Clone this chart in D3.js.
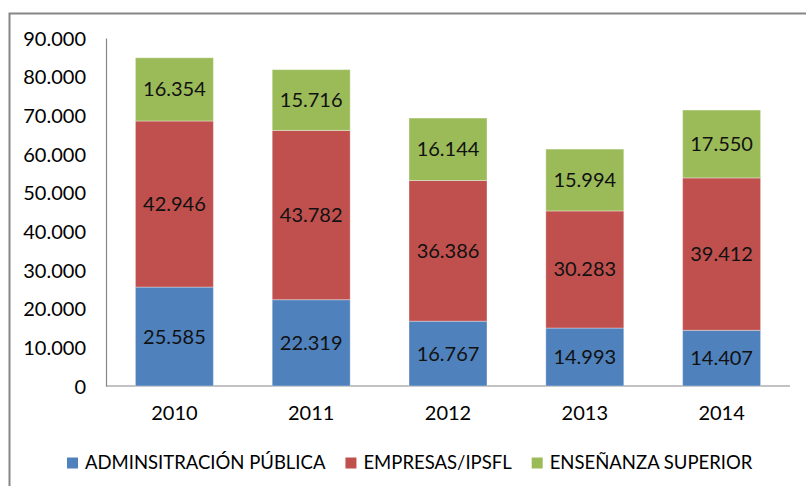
<!DOCTYPE html>
<html>
<head>
<meta charset="utf-8">
<script src="https://cdn.jsdelivr.net/npm/d3@7"></script>
<style>
  body { margin: 0; background: #fff; }
  text { font-family: Lato, "Liberation Sans", sans-serif; fill: #000; }
</style>
</head>
<body>
<script>
// data
const years = ["2010", "2011", "2012", "2013", "2014"]
const seriesNames = ["ADMINSITRACIÓN PÚBLICA", "EMPRESAS/IPSFL", "ENSEÑANZA SUPERIOR"]
const administracion = [25585, 22319, 16767, 14993, 14407]
const empresas = [42946, 43782, 36386, 30283, 39412]
const ensenanza = [16354, 15716, 16144, 15994, 17550]
const yTicks = [0, 10000, 20000, 30000, 40000, 50000, 60000, 70000, 80000, 90000]

const colors = ["#4F81BD", "#C0504D", "#9BBB59"]

const width = 806, height = 486
const plot = { left: 106, right: 790, top: 38, bottom: 386 }

// spanish number format, dot as thousands separator
const fmt = d3.formatLocale({ decimal: ",", thousands: ".", grouping: [3], currency: ["", "€"] }).format(",d")

const svg = d3.select("body").append("svg")
  .attr("width", width)
  .attr("height", height)

// outer chart border
svg.append("rect")
  .attr("x", 9.5).attr("y", 13.5)
  .attr("width", width + 10).attr("height", height + 10)
  .attr("fill", "none")
  .attr("stroke", "#868686")
  .attr("stroke-width", 2)

// stack the three series
const rows = years.map((y, i) => ({
  year: y,
  s0: administracion[i],
  s1: empresas[i],
  s2: ensenanza[i]
}))
const stacked = d3.stack().keys(["s0", "s1", "s2"])(rows)

const x = d3.scaleBand()
  .domain(years)
  .range([plot.left, plot.right])
  .paddingInner(0.43)
  .paddingOuter(0.215)

const y = d3.scaleLinear()
  .domain([0, 90000])
  .range([plot.bottom, plot.top])

// y axis
const yAxis = svg.append("g")
  .attr("transform", `translate(${plot.left},0)`)
  .call(d3.axisLeft(y).tickValues(yTicks).tickFormat(fmt).tickSize(0).tickPadding(20))
yAxis.select(".domain").attr("stroke", "#868686").attr("stroke-width", 1.2)
yAxis.selectAll("text").style("font-size", "20px").attr("dy", "0.35em")

// x axis
const xAxis = svg.append("g")
  .attr("transform", `translate(0,${plot.bottom})`)
  .call(d3.axisBottom(x).tickSize(0).tickPadding(20))
xAxis.select(".domain").attr("stroke", "#868686").attr("stroke-width", 1.2)
  .attr("d", `M${plot.left},0H${plot.right}`)
xAxis.selectAll("text").style("font-size", "20px")

// bars
const layers = svg.selectAll(".layer")
  .data(stacked)
  .join("g")
  .attr("class", "layer")
  .attr("fill", (d, i) => colors[i])

layers.selectAll("rect")
  .data(d => d)
  .join("rect")
  .attr("x", d => x(d.data.year))
  .attr("width", x.bandwidth())
  .attr("y", d => y(d[1]))
  .attr("height", d => y(d[0]) - y(d[1]))
  .attr("stroke", "rgba(255,255,255,0.35)")
  .attr("stroke-width", 1)

// value labels
layers.selectAll("text")
  .data(d => d)
  .join("text")
  .attr("x", d => x(d.data.year) + x.bandwidth() / 2)
  .attr("y", d => (y(d[0]) + y(d[1])) / 2)
  .attr("dy", "0.35em")
  .attr("text-anchor", "middle")
  .style("font-size", "20px")
  .style("fill", "#111")
  .text(d => fmt(d[1] - d[0]))

// legend
const legend = svg.append("g").attr("transform", "translate(67,463)")
let lx = 0
seriesNames.forEach((name, i) => {
  const g = legend.append("g").attr("transform", `translate(${lx},0)`)
  g.append("rect")
    .attr("x", 0).attr("y", -5.5)
    .attr("width", 11).attr("height", 11)
    .attr("fill", colors[i])
  const t = g.append("text")
    .attr("x", 18)
    .attr("dy", "0.35em")
    .style("font-size", "18.5px")
    .text(name)
  lx += 18 + t.node().getComputedTextLength() + 20
})
</script>
</body>
</html>
